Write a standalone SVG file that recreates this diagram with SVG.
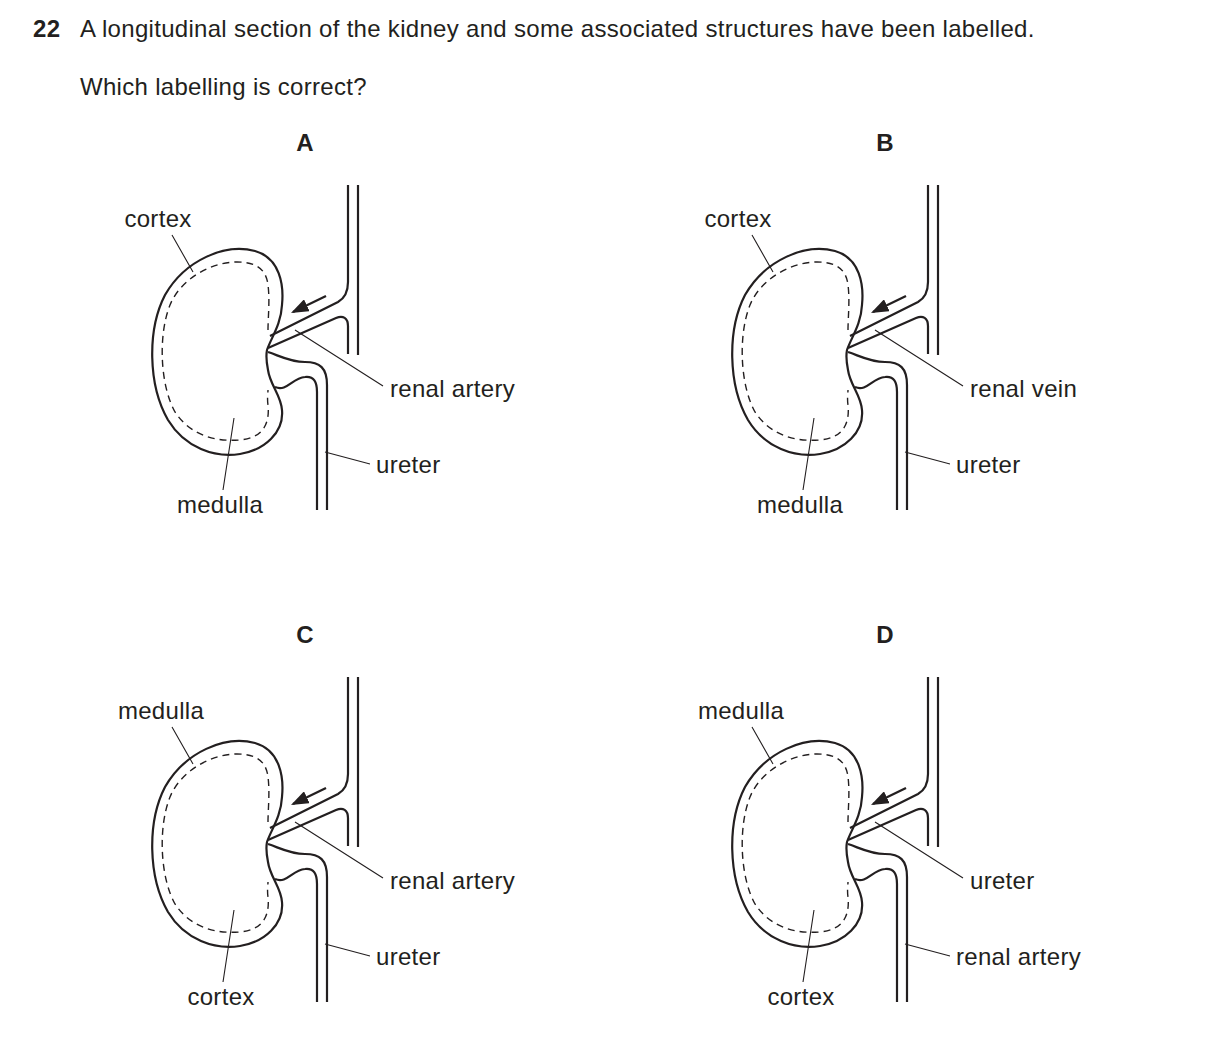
<svg xmlns="http://www.w3.org/2000/svg" width="1209" height="1064" viewBox="0 0 1209 1064">
<style>
text{font-family:"Liberation Sans",Arial,sans-serif;font-size:24px;letter-spacing:0.3px;fill:#231f20}
.b{font-weight:bold}
.o{fill:none;stroke:#231f20;stroke-width:2.2}
.d{fill:none;stroke:#231f20;stroke-width:1.4;stroke-dasharray:7 5}
.l{fill:none;stroke:#231f20;stroke-width:1.1}
</style>
<defs>
<marker id="ah" markerWidth="8" markerHeight="6" refX="7" refY="3" orient="auto" markerUnits="strokeWidth"><path d="M0,0 L8,3 L0,6 Z" fill="#231f20"/></marker>
<g id="kid">
<path class="o" d="M267,350 C271,338 281,325 282,305 C284,285 280,258 255,251 C225,243 185,260 165,295 C147,330 148,385 168,420 C185,448 215,458 240,454 C265,450 284,432 282,410 C281,395 270,385 268,370 C266,360 266,355 267,350 Z"/>
<path class="d" d="M268,330 C268,318 270,300 268,285 C266,268 255,262 237,262 C210,262 180,280 170,305 C158,335 160,385 175,412 C190,435 215,442 240,440 C262,438 270,425 268,405 C267,398 268,393 268,390"/>
<path class="o" d="M268,352 C280,356 290,362 305,362 C320,362 327,368 327,385 L327,510"/>
<path class="o" d="M275,387 C287,392 292,378 305,377 C314,376 317,382 317,392 L317,510"/>
<path class="o" d="M270,336 L338,302 C345,298 348,292 348,282 L348,185"/>
<path class="o" d="M268,348 L336,318 C343,315 348,318 348,326 L348,354"/>
<path class="o" d="M358,185 L358,355"/>
<path class="o" d="M326,296 L293,312" marker-end="url(#ah)"/>
<path class="l" d="M172,235 L193,272 M234,418 L223,490 M295,330 L383,386 M325,452 L370,464"/>
</g>
</defs>
<text x="33" y="37" class="b">22</text>
<text x="80" y="37">A longitudinal section of the kidney and some associated structures have been labelled.</text>
<text x="80" y="95">Which labelling is correct?</text>
<g id="panelA">
<text x="305" y="151" class="b" text-anchor="middle">A</text>
<use href="#kid"/>
<text x="158" y="227" text-anchor="middle">cortex</text>
<text x="220" y="513" text-anchor="middle">medulla</text>
<text x="390" y="397">renal artery</text>
<text x="376" y="473">ureter</text>
</g>
<g id="panelB" transform="translate(580,0)">
<text x="305" y="151" class="b" text-anchor="middle">B</text>
<use href="#kid"/>
<text x="158" y="227" text-anchor="middle">cortex</text>
<text x="220" y="513" text-anchor="middle">medulla</text>
<text x="390" y="397">renal vein</text>
<text x="376" y="473">ureter</text>
</g>
<g id="panelC" transform="translate(0,492)">
<text x="305" y="151" class="b" text-anchor="middle">C</text>
<use href="#kid"/>
<text x="161" y="227" text-anchor="middle">medulla</text>
<text x="221" y="513" text-anchor="middle">cortex</text>
<text x="390" y="397">renal artery</text>
<text x="376" y="473">ureter</text>
</g>
<g id="panelD" transform="translate(580,492)">
<text x="305" y="151" class="b" text-anchor="middle">D</text>
<use href="#kid"/>
<text x="161" y="227" text-anchor="middle">medulla</text>
<text x="221" y="513" text-anchor="middle">cortex</text>
<text x="390" y="397">ureter</text>
<text x="376" y="473">renal artery</text>
</g>
</svg>
